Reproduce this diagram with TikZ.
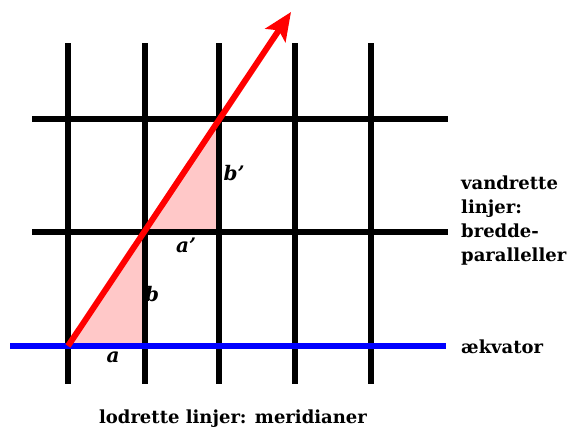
\documentclass[tikz,border=0pt]{standalone}
\usepackage{fontspec}
\setmainfont{DejaVu Serif}
\usetikzlibrary{arrows.meta}
\definecolor{pinkfill}{RGB}{255,200,200}
\definecolor{eqblue}{RGB}{0,0,255}
\begin{document}
\begin{tikzpicture}[x=1pt,y=-1pt,
  gridline/.style={line width=5.5pt,black},
  tri/.style={fill=pinkfill},
  lbl/.style={font=\fontsize{20}{20}\selectfont\bfseries\itshape,inner sep=0pt},
  txt/.style={font=\fontsize{18}{24}\selectfont\bfseries,inner sep=0pt,align=left}]
\useasboundingbox (0,0) rectangle (568,432);
% grid coordinates
\coordinate (A) at (68,346);
\coordinate (B) at (145,346);
\coordinate (C) at (145,232);
\coordinate (D) at (219,232);
\coordinate (E) at (219,119);
\coordinate (T) at (291,12);
% shaded triangles
\fill[tri] (A) -- (B) -- (C) -- cycle;
\fill[tri] (C) -- (D) -- (E) -- cycle;
% vertical lines
\foreach \x in {68,145,219,295,371} \draw[gridline] (\x,43) -- (\x,384);
% horizontal lines
\draw[gridline] (32,119) -- (448,119);
\draw[gridline] (32,232) -- (448,232);
\draw[line width=6pt,eqblue] (10,346) -- (446,346);
% red arrow
\draw[line width=6pt,red,-{Stealth[length=28pt,width=24pt,inset=6pt]}] (A) -- (T);
% labels
\node[lbl,anchor=base] (la) at (113,362) {a};
\node[lbl,anchor=base] (lb) at (152,301) {b};
\node[lbl,anchor=base] (la2) at (186,252) {a'};
\node[lbl,anchor=base] (lb2) at (234,180) {b'};
\node[txt,anchor=base west] (vand) at (461,189) {vandrette};
\node[txt,anchor=base west] (linj) at (461,213) {linjer:};
\node[txt,anchor=base west] (bred) at (461,237) {bredde-};
\node[txt,anchor=base west] (para) at (461,261) {paralleller};
\node[txt,anchor=base west] (aek) at (461,353) {ækvator};
\node[txt,anchor=base] (lod) at (233,423) {lodrette linjer: meridianer};
\end{tikzpicture}
\end{document}
